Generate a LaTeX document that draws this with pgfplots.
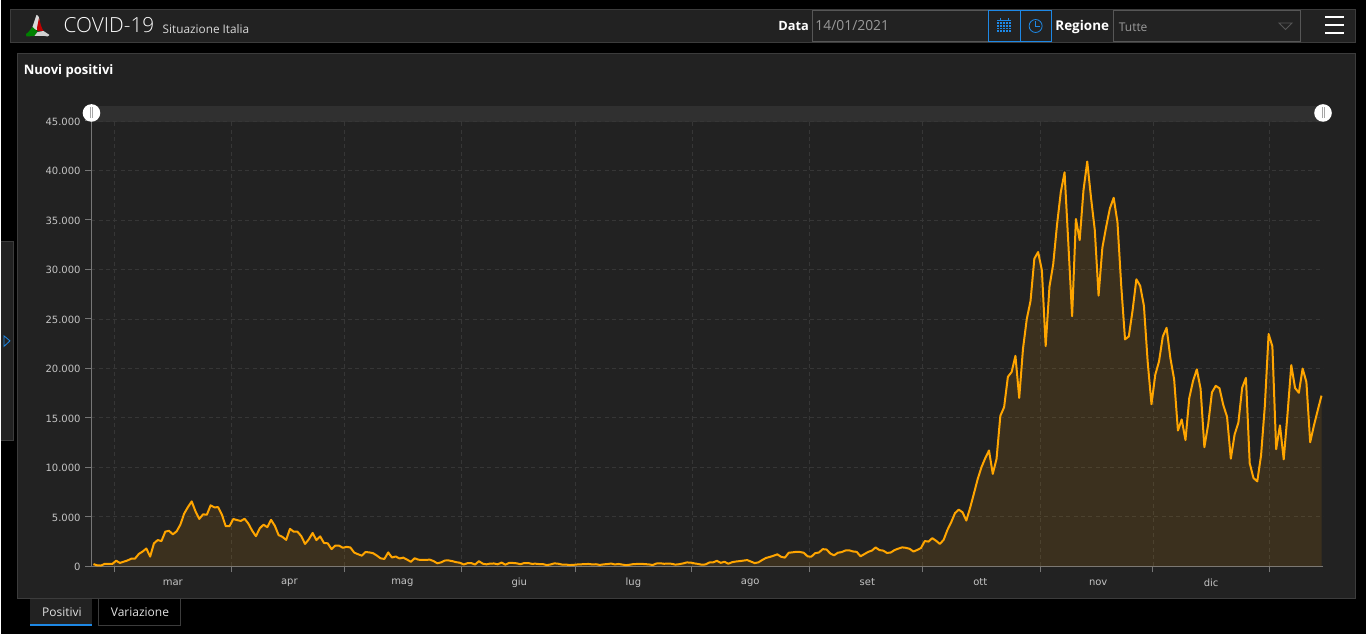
\documentclass[border=0pt]{standalone}
\usepackage{fontspec}
\setmainfont{Open Sans}
\newfontfamily\lightfont{Open Sans Light}
\newfontfamily\tickfont{DejaVu Sans}
\usepackage{pgfplots}
\usepackage{pgfplotstable}
\pgfplotsset{compat=1.18}
\definecolor{panel}{HTML}{222222}
\definecolor{panelb}{HTML}{3C3C3C}
\definecolor{gridc}{HTML}{363636}
\definecolor{axisc}{HTML}{777777}
\definecolor{tickt}{HTML}{C4C4C4}
\definecolor{lineo}{HTML}{FFA500}
\definecolor{bluec}{HTML}{1E88E5}
\definecolor{greyt}{HTML}{9A9A9A}
\definecolor{fieldb}{HTML}{565656}
\pgfplotstableread[row sep=\\,header=false]{
221\\93\\78\\250\\238\\240\\
566\\342\\466\\587\\769\\778\\1247\\1492\\1797\\977\\2313\\2651\\2547\\3497\\3590\\3233\\3526\\4207\\5322\\5986\\6557\\5560\\4789\\5249\\5210\\6153\\5959\\5974\\5217\\4050\\4053\\
4782\\4668\\4585\\4805\\4316\\3599\\3039\\3836\\4204\\3951\\4694\\4092\\3153\\2972\\2667\\3786\\3493\\3491\\3047\\2256\\2729\\3370\\2646\\3021\\2357\\2324\\1739\\2091\\2086\\1872\\
1965\\1900\\1389\\1221\\1075\\1444\\1401\\1327\\1083\\802\\744\\1402\\888\\992\\789\\875\\675\\451\\813\\665\\642\\652\\669\\531\\300\\397\\584\\593\\516\\416\\355\\
178\\318\\321\\177\\518\\270\\197\\280\\283\\202\\379\\163\\346\\338\\301\\210\\328\\333\\251\\262\\224\\218\\122\\190\\296\\259\\175\\174\\126\\142\\
182\\201\\223\\235\\192\\208\\138\\193\\229\\276\\188\\234\\169\\114\\163\\230\\233\\249\\219\\190\\129\\282\\306\\252\\275\\255\\170\\212\\289\\386\\379\\
295\\239\\159\\190\\384\\402\\552\\347\\463\\259\\412\\481\\523\\574\\629\\479\\320\\403\\642\\845\\947\\1071\\1210\\953\\878\\1367\\1411\\1462\\1444\\1365\\996\\
978\\1326\\1397\\1733\\1694\\1297\\1108\\1370\\1434\\1597\\1616\\1501\\1458\\1008\\1229\\1452\\1585\\1907\\1638\\1587\\1350\\1392\\1640\\1786\\1912\\1869\\1766\\1494\\1648\\1851\\
2548\\2499\\2843\\2578\\2257\\2677\\3678\\4458\\5372\\5724\\5456\\4619\\5901\\7332\\8804\\10010\\10925\\11705\\9338\\10874\\15199\\16079\\19143\\19644\\21273\\17012\\21994\\24991\\26831\\31084\\31758\\
29907\\22253\\28244\\30550\\34505\\37809\\39811\\32616\\25271\\35098\\32961\\37978\\40902\\37255\\33979\\27354\\32191\\34283\\36176\\37242\\34767\\28337\\22930\\23232\\25853\\29003\\28352\\26323\\20648\\16377\\
19350\\20709\\23225\\24099\\21052\\18887\\13720\\14842\\12756\\16999\\18727\\19903\\17938\\12030\\14320\\17572\\18236\\17992\\16308\\15104\\10872\\13318\\14522\\18040\\19037\\10407\\8913\\8585\\11212\\16202\\23477\\
22211\\11831\\14245\\10800\\15378\\20331\\18020\\17533\\19978\\18627\\12532\\14242\\15774\\17246\\
}\casi
\begin{document}
\begin{tikzpicture}[x=0.75pt,y=-0.75pt]
% page
\fill[black] (0,0) rectangle (1366,634);
% header bar
\draw[fill=panel,draw=panelb,line width=0.75pt] (10.5,9.5) rectangle (1355.5,42.5);
% main panel
\draw[fill=panel,draw=panelb,line width=0.75pt] (17.5,53.5) rectangle (1355.5,598.5);
% side tab
\fill[panel] (0,241) rectangle (13.5,441);
\draw[panelb,line width=0.75pt] (0,241.5) -- (13.5,241.5) -- (13.5,440.5) -- (0,440.5);
\draw[bluec,line width=0.6pt] (3.5,336) -- (9.5,341) -- (3.5,346.5) -- cycle;
% tabs
\fill[panel] (30,599) rectangle (92,625);
\fill[bluec] (30,624) rectangle (92,626);
\draw[panelb,line width=0.75pt] (98.5,598.5) -- (98.5,625.5) -- (180.5,625.5) -- (180.5,598.5);
\node[anchor=center,text=white!88!black,font=\fontsize{9}{11}\selectfont] at (61.5,612) {Positivi};
\node[anchor=center,text=white!88!black,font=\fontsize{9}{11}\selectfont] at (139.5,612) {Variazione};
% logo
\fill[white!85!black] (36,15) .. controls (38,15) and (39,18) .. (39,22) -- (37,30) -- (31,30) -- cycle;
\fill[red!75!black] (38.5,18) .. controls (40,24) and (41,28) .. (43,31) -- (37,31) -- (36.5,28) -- cycle;
\fill[green!50!black] (32,27) -- (37,31.5) -- (34,36) -- (26,36.5) .. controls (24,35) and (26,33) .. (28,32) -- cycle;
\fill[white!82!black] (37,32) -- (43,31) -- (49,35) .. controls (49,37) and (46,36.5) .. (44,36) -- (34,36) -- cycle;
% header text
\node[anchor=base west,text=white,inner sep=0pt,font=\lightfont\fontsize{15.6}{18}\selectfont] at (63,33) {COVID-19};
\node[anchor=base west,text=white!85!black,inner sep=0pt,font=\fontsize{8.85}{11}\selectfont] at (162,33.5) {Situazione Italia};
\node[anchor=base west,text=white,inner sep=0pt,font=\bfseries\fontsize{9.6}{12}\selectfont] at (778,31) {Data};
\draw[fieldb,line width=0.75pt] (812.5,10.5) rectangle (988,41.5);
\node[anchor=base west,text=greyt,inner sep=0pt,font=\fontsize{10.4}{12}\selectfont] at (815,31) {14/01/2021};
\draw[bluec,line width=0.75pt] (988.5,10.5) rectangle (1020,41.5);
\draw[bluec,line width=0.75pt] (1020,10.5) rectangle (1051.5,41.5);
% calendar icon
\draw[bluec,line width=0.5pt] (997,20) -- (1011,20);
\fill[bluec] (997,22) rectangle (1011,33.5);
\foreach \xx in {999.5,1002.5,1005.5,1008.5} \draw[panel,line width=0.35pt] (\xx,22) -- (\xx,33.5);
\foreach \yy in {24.5,27,29.5,32} \draw[panel,line width=0.35pt] (997,\yy) -- (1011,\yy);
\draw[bluec,line width=0.6pt] (1000,18) -- (1000,21) (1008,18) -- (1008,21);
% clock icon
\draw[bluec,line width=0.6pt] (1035.5,26) circle[radius=6.5];
\draw[bluec,line width=0.5pt] (1035.5,21.5) -- (1035.5,26) -- (1039.5,26);
\node[anchor=base west,text=white,inner sep=0pt,font=\bfseries\fontsize{10.1}{12}\selectfont] at (1055,31) {Regione};
\draw[fieldb,line width=0.75pt] (1113.5,10.5) rectangle (1300,41.5);
\node[anchor=base west,text=greyt,inner sep=0pt,font=\fontsize{9}{11}\selectfont] at (1118.5,32) {Tutte};
\draw[fieldb,line width=0.6pt] (1279,23) -- (1292,23) -- (1285.5,29.5) -- cycle;
\fill[white] (1325,16.5) rectangle (1344,18.5);
\fill[white] (1325,24.5) rectangle (1344,26.5);
\fill[white] (1325,32.5) rectangle (1344,34.5);
% title
\node[anchor=base west,text=white,inner sep=0pt,font=\bfseries\fontsize{9.8}{12}\selectfont] at (23,74.7) {Nuovi positivi};
% slider band
\fill[white!19!black] (91,106) rectangle (1323,122);
\coordinate (orig) at (91,566.5);
% chart
\begin{axis}[
  at={(orig)},anchor=south west,
  scale only axis,width=924pt,height=334.1pt,
  xmin=-0.529,xmax=325.4,ymin=0,ymax=45000,
  clip=false,
  scaled y ticks=false,
  axis x line*=bottom,axis y line*=left,
  axis line style={draw=axisc,line width=0.75pt,-},
  xtick={5.5,36.4,66.4,97.3,127.5,158.4,189.4,219.4,250.6,280.4,311.3},
  xticklabels={},
  ytick={0,5000,10000,15000,20000,25000,30000,35000,40000,45000},
  yticklabels={0,5.000,10.000,15.000,20.000,25.000,30.000,35.000,40.000,45.000},
  grid=major,
  grid style={draw=gridc,dash pattern=on 3pt off 2.5pt,line width=0.55pt},
  tick style={draw=axisc,line width=0.75pt},
  tick align=outside,major tick length=4.5pt,
  yticklabel style={text=tickt,font=\tickfont\fontsize{7.5}{9}\selectfont,inner sep=0pt,xshift=-3.5pt,yshift=-0.6pt},
  extra x ticks={21.0,51.85,81.75,112.7,142.9,173.8,204.8,234.7,265.9,295.8},
  extra x tick labels={mar,apr,mag,giu,lug,ago,set,ott,nov,dic},
  extra x tick style={
    major tick length=0pt,grid=none,
    ticklabel style={text=tickt,font=\tickfont\fontsize{7.5}{9}\selectfont,anchor=center,yshift=-12pt},
    },
]
\addplot[draw=none,fill=lineo,fill opacity=0.115] table[x expr=\coordindex,y index=0] {\casi} \closedcycle;
\addplot[draw=lineo,line width=1.5pt,line join=round,no marks] table[x expr=\coordindex,y index=0] {\casi};
\end{axis}
% handles
\draw[axisc,line width=0.75pt] (91,113) -- (91,122);
\foreach \hx in {91,1323}{
  \fill[white] (\hx,113) circle[radius=8.8];
  \draw[white!65!black,line width=0.45pt] (\hx-1.2,107.5) -- (\hx-1.2,118.5) (\hx+1.2,107.5) -- (\hx+1.2,118.5);
}
\end{tikzpicture}
\end{document}
